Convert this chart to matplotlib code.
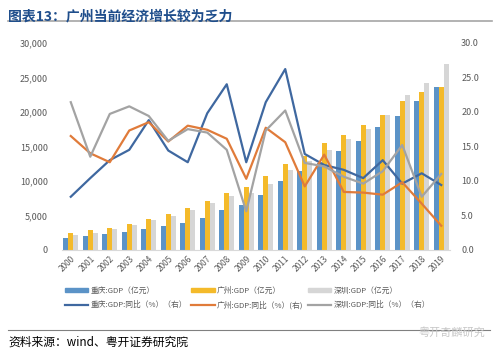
import numpy as np
import matplotlib
matplotlib.use('Agg')
import matplotlib.pyplot as plt
from matplotlib.patches import Patch
from matplotlib.lines import Line2D

plt.rcParams['font.family'] = ['Noto Sans CJK SC', 'DejaVu Sans']

years = [str(y) for y in range(2000, 2020)]

# GDP (亿元)
cq_gdp = [1791, 1977, 2233, 2556, 3035, 3468, 3907, 4676, 5794, 6530,
          7926, 10011, 11410, 12657, 14263, 15717, 17741, 19425, 21589, 23606]
gz_gdp = [2492, 2842, 3204, 3758, 4450, 5154, 6081, 7141, 8216, 9138,
          10748, 12423, 13551, 15420, 16707, 18100, 19547, 21503, 22859, 23629]
sz_gdp = [2187, 2482, 2970, 3586, 4282, 4951, 5814, 6802, 7787, 8201,
          9582, 11506, 12950, 14500, 16002, 17503, 19493, 22490, 24222, 26927]

# GDP 同比 (%)
cq_yoy = [7.7, 10.4, 13.0, 14.5, 18.8, 14.4, 12.7, 19.8, 24.0, 12.7,
          21.4, 26.2, 13.9, 12.3, 11.6, 10.4, 13.0, 9.6, 11.1, 9.4]
gz_yoy = [16.5, 14.0, 12.7, 17.3, 18.5, 15.7, 18.0, 17.4, 16.1, 10.3,
          17.7, 15.6, 9.2, 13.8, 8.4, 8.3, 8.0, 9.8, 6.7, 3.5]
sz_yoy = [21.4, 13.5, 19.7, 20.8, 19.4, 15.8, 17.5, 17.0, 14.5, 5.6,
          17.3, 20.2, 12.6, 12.1, 10.6, 9.6, 11.4, 15.2, 7.7, 11.0]

bar_labels = ['重庆:GDP（亿元）', '广州:GDP（亿元）', '深圳:GDP（亿元）']
line_labels = ['重庆:GDP:同比（%）（右）', '广州:GDP:同比（%）(右)', '深圳:GDP:同比（%）（右）']

bar_colors = ['#5B93C7', '#F4BA2A', '#D6D6D6']
line_colors = ['#3F68A0', '#E07B3A', '#A3A3A3']
tick_color = '#595959'

fig = plt.figure(figsize=(5, 3.57), dpi=100)
ax = fig.add_axes([0.124, 0.30, 0.776, 0.58])
ax2 = ax.twinx()

x = np.arange(len(years))
w = 0.25
for i, (vals, c) in enumerate(zip([cq_gdp, gz_gdp, sz_gdp], bar_colors)):
    ax.bar(x + (i - 1) * w, vals, w, color=c, zorder=2)

for vals, c in zip([cq_yoy, gz_yoy, sz_yoy], line_colors):
    ax2.plot(x, vals, color=c, lw=1.6, zorder=3)

ax.set_xlim(-0.45, 19.45)
ax.set_ylim(0, 30000)
ax2.set_ylim(0, 30)
ax.set_yticks(range(0, 30001, 5000))
ax.set_yticklabels([f'{v:,}' for v in range(0, 30001, 5000)])
ax2.set_yticks(range(0, 31, 5))
ax2.set_yticklabels([f'{v:.1f}' for v in range(0, 31, 5)])
ax.set_xticks(x)
ax.set_xticklabels(years, rotation=45, ha='right', rotation_mode='anchor')

for a in (ax, ax2):
    for s in a.spines.values():
        s.set_visible(False)
    a.tick_params(length=0, colors=tick_color, labelsize=6.5)
ax.spines['bottom'].set_visible(True)
ax.spines['bottom'].set_color('#D9D9D9')
ax.tick_params(axis='y', pad=10)
ax.tick_params(axis='x', pad=3, labelsize=6)
ax2.tick_params(axis='y', pad=8)

handles = [Patch(color=c) for c in bar_colors] + \
          [Line2D([], [], color=c, lw=1.6) for c in line_colors]
labels = bar_labels + line_labels
# order for 2 rows x 3 cols (column-major fill)
order = [0, 3, 1, 4, 2, 5]
fig.legend([handles[i] for i in order], [labels[i] for i in order],
           ncol=3, loc='center left', bbox_to_anchor=(0.115, 0.165), frameon=False,
           fontsize=5.6, handlelength=3.0, handleheight=0.55, columnspacing=0.6,
           labelcolor=tick_color, handletextpad=0.3, labelspacing=0.8)

# title
fig.text(0.016, 0.955, '图表13：广州当前经济增长较为乏力', fontsize=10,
         fontweight='bold', color='#1F4E8C', va='center')
fig.add_artist(Line2D([0.016, 0.984], [0.94, 0.94], color='#A6A6A6', lw=1.2))

# footer
fig.add_artist(Line2D([0.016, 0.98], [0.077, 0.077], color='#808080', lw=0.8))
fig.text(0.016, 0.042, '资料来源：wind、粤开证券研究院', fontsize=8.5,
         style='italic', color='#000000', va='center')
fig.text(0.97, 0.068, '粤开奇麟研究', fontsize=8, color='#C8C8C8',
         ha='right', va='center')

fig.savefig('out.png', dpi=100)
